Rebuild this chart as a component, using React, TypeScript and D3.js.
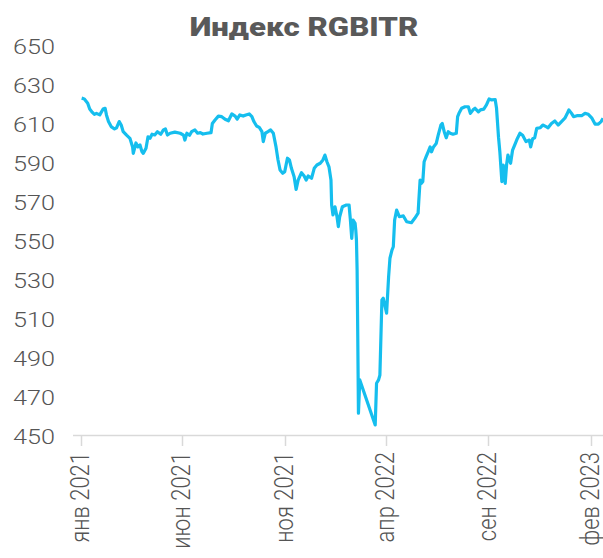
import React from "react";
import * as d3 from "d3";

const title = "Индекс RGBITR";

const dates = [
  "2021-01-02","2021-01-06","2021-01-11","2021-01-14","2021-01-18","2021-01-21","2021-01-24","2021-01-29",
  "2021-02-03","2021-02-06","2021-02-08","2021-02-11","2021-02-15","2021-02-20","2021-02-23","2021-02-27",
  "2021-03-02","2021-03-05","2021-03-10","2021-03-15","2021-03-19","2021-03-20","2021-03-24","2021-03-27","2021-03-30",
  "2021-04-02","2021-04-04","2021-04-08","2021-04-11","2021-04-14","2021-04-17","2021-04-21","2021-04-25","2021-04-30",
  "2021-05-04","2021-05-07","2021-05-10","2021-05-14","2021-05-21","2021-05-29",
  "2021-06-03","2021-06-05","2021-06-08","2021-06-12","2021-06-15","2021-06-20","2021-06-24","2021-06-28",
  "2021-07-02","2021-07-08","2021-07-14","2021-07-16","2021-07-20","2021-07-25","2021-07-30",
  "2021-08-04","2021-08-09","2021-08-14","2021-08-19","2021-08-22","2021-08-26","2021-08-31",
  "2021-09-04","2021-09-09","2021-09-13","2021-09-16","2021-09-20","2021-09-24","2021-09-28","2021-09-30",
  "2021-10-03","2021-10-07","2021-10-11","2021-10-15","2021-10-19","2021-10-22","2021-10-25","2021-10-29",
  "2021-11-01","2021-11-05","2021-11-08","2021-11-11","2021-11-15","2021-11-18","2021-11-21","2021-11-26","2021-11-30",
  "2021-12-03","2021-12-06","2021-12-11","2021-12-15","2021-12-19","2021-12-24","2021-12-28","2021-12-31",
  "2022-01-03","2022-01-06","2022-01-09","2022-01-10","2022-01-12","2022-01-15","2022-01-18","2022-01-20","2022-01-22","2022-01-26",
  "2022-02-01","2022-02-05","2022-02-07","2022-02-09","2022-02-11","2022-02-14","2022-02-15","2022-02-16","2022-02-17","2022-02-18","2022-02-19","2022-02-21",
  "2022-03-16","2022-03-18","2022-03-21","2022-03-23","2022-03-26","2022-03-28",
  "2022-04-02","2022-04-05","2022-04-07","2022-04-10","2022-04-12","2022-04-14","2022-04-17","2022-04-21","2022-04-27",
  "2022-05-02","2022-05-09","2022-05-14","2022-05-19","2022-05-20","2022-05-22","2022-05-24","2022-05-26","2022-05-28","2022-05-31",
  "2022-06-03","2022-06-06","2022-06-08","2022-06-11","2022-06-15","2022-06-18","2022-06-22","2022-06-24","2022-06-27","2022-06-30",
  "2022-07-03","2022-07-06","2022-07-10","2022-07-15","2022-07-17","2022-07-19","2022-07-23","2022-07-28",
  "2022-08-02","2022-08-05","2022-08-09","2022-08-12","2022-08-17","2022-08-20","2022-08-25","2022-08-29",
  "2022-09-02","2022-09-06","2022-09-11","2022-09-13","2022-09-16","2022-09-18","2022-09-21","2022-09-23","2022-09-26","2022-09-28","2022-09-30",
  "2022-10-04","2022-10-07","2022-10-11","2022-10-14","2022-10-18","2022-10-22","2022-10-27",
  "2022-11-01","2022-11-03","2022-11-06","2022-11-09","2022-11-12","2022-11-17","2022-11-21","2022-11-26","2022-11-29",
  "2022-12-04","2022-12-09","2022-12-14","2022-12-19","2022-12-24","2022-12-27","2022-12-30",
  "2023-01-03","2023-01-06","2023-01-11","2023-01-18","2023-01-23","2023-01-28",
  "2023-02-02","2023-02-07","2023-02-12","2023-02-16","2023-02-19"
];

const values = [
  623.0,622.6,620.4,617.4,615.7,614.7,615.2,614.4,
  617.4,617.8,614.4,611.0,608.4,607.2,607.8,611.0,
  609.2,605.8,604.0,602.4,598.0,594.7,600.0,598.0,599.0,
  595.5,594.7,597.3,603.2,602.4,604.5,604.1,605.8,604.5,
  606.7,607.2,604.1,605.0,605.6,605.0,
  604.0,601.5,605.0,604.0,605.8,606.7,605.0,605.3,
  604.6,605.0,605.3,610.0,611.8,613.8,613.5,
  612.2,611.4,614.9,613.8,612.2,614.4,613.8,
  614.4,614.9,613.5,611.0,608.7,608.0,605.8,600.7,
  605.0,605.8,606.7,605.0,598.0,591.3,586.2,584.5,
  585.3,592.2,591.3,587.0,582.7,576.2,581.0,584.8,583.1,
  581.0,583.1,581.9,587.0,588.7,589.6,591.3,593.8,
  590.4,587.8,581.0,568.2,563.1,567.3,562.2,557.1,562.2,567.3,
  568.2,568.2,560.5,551.1,560.5,558.8,555.4,550.3,535.0,500.0,461.4,478.5,
  455.4,476.8,478.5,481.0,519.5,520.4,
  512.7,531.4,540.9,545.1,546.8,560.5,565.6,562.2,562.6,
  559.6,559.1,561.4,564.0,570.0,581.0,579.3,580.2,590.4,593.0,
  595.5,598.0,595.5,598.0,599.7,604.0,609.2,610.0,605.8,602.7,
  605.8,605.0,604.5,605.0,613.5,615.2,617.8,618.6,
  618.6,615.2,617.0,617.8,616.0,617.0,617.4,619.5,
  622.6,622.1,622.3,618.0,603.0,595.5,580.2,588.7,579.3,588.7,593.8,
  589.6,596.4,599.7,602.2,605.0,604.0,600.7,
  601.5,598.0,602.2,602.7,607.5,607.8,609.2,608.4,607.8,
  610.0,611.3,609.2,611.0,612.7,614.7,617.0,
  615.2,613.5,614.0,614.0,615.2,614.7,
  612.9,609.7,609.7,611.0,612.7
];

const xTickDates = ["2021-01-01","2021-06-01","2021-11-01","2022-04-01","2022-09-01","2023-02-01"];
const xTickLabels = ["янв 2021","июн 2021","ноя 2021","апр 2022","сен 2022","фев 2023"];
const yTicks = [450,470,490,510,530,550,570,590,610,630,650];

const W = 603, H = 558;
const parse = d3.timeParse("%Y-%m-%d");

export default function App() {
  const x = d3.scaleTime()
    .domain([parse("2021-01-01")!, parse("2023-02-01")!])
    .range([81, 591]);
  const y = d3.scaleLinear().domain([450, 650]).range([435.5, 45.5]);
  const pts = dates.map((d, i) => ({ d: parse(d)!, v: values[i] }));
  const line = d3.line<{ d: Date; v: number }>().x(p => x(p.d)).y(p => y(p.v));
  const font = "Roboto, 'Noto Sans', sans-serif";
  const sx = 1.2;
  return (
    <svg width={W} height={H} style={{ position: "absolute", left: 0, top: 0 }}>
      <rect width={W} height={H} fill="#fff" />
      <text transform={`translate(304,36) scale(${sx},1)`} textAnchor="middle"
        fontFamily={font} fontWeight={900} fontSize={26} fill="#595959">{title}</text>
      {yTicks.map(t => (
        <text key={t} transform={`translate(55,${y(t) + 8}) scale(${sx},1)`} textAnchor="end"
          fontFamily={font} fontWeight={300} fontSize={21} fill="#555">{t}</text>
      ))}
      <line x1={73} x2={W} y1={435.5} y2={435.5} stroke="#d9d9d9" strokeWidth={1.5} />
      {xTickDates.map((d, i) => {
        const xx = Math.round(x(parse(d)!)) + 0.5;
        return (
          <g key={d}>
            <line x1={xx} x2={xx} y1={435.5} y2={446} stroke="#d9d9d9" strokeWidth={1.5} />
            <text transform={`translate(${xx + 7.5},452) scale(${sx},1) rotate(-90)`} textAnchor="end"
              fontFamily={font} fontWeight={300} fontSize={22} fill="#555">{xTickLabels[i]}</text>
          </g>
        );
      })}
      <path d={line(pts) || ""} fill="none" stroke="#15BEEE" strokeWidth={3.2} strokeLinejoin="round" />
    </svg>
  );
}
